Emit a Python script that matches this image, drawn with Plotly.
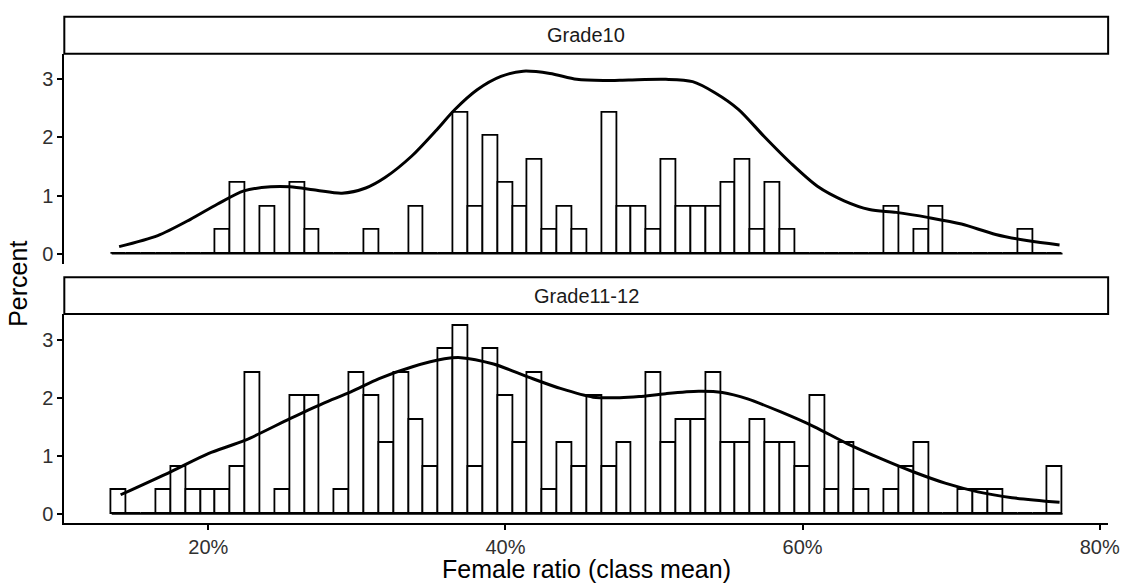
import plotly.graph_objects as go

# ---------------- data ----------------
bin_centers = [14, 15, 16, 17, 18, 19, 20, 21, 22, 23, 24, 25, 26, 27, 28, 29,
               30, 31, 32, 33, 34, 35, 36, 37, 38, 39, 40, 41, 42, 43, 44, 45,
               46, 47, 48, 49, 50, 51, 52, 53, 54, 55, 56, 57, 58, 59, 60, 61,
               62, 63, 64, 65, 66, 67, 68, 69, 70, 71, 72, 73, 74, 75, 76, 77]
bin_width = 1.0

counts_grade10 = [0, 0, 0, 0, 0, 0, 0, 1, 3, 0, 2, 0, 3, 1, 0, 0,
                  0, 1, 0, 0, 2, 0, 0, 6, 2, 5, 3, 2, 4, 1, 2, 1,
                  0, 6, 2, 2, 1, 4, 2, 2, 2, 3, 4, 1, 3, 1, 0, 0,
                  0, 0, 0, 0, 2, 0, 1, 2, 0, 0, 0, 0, 0, 1, 0, 0]

counts_grade11_12 = [1, 0, 0, 1, 2, 1, 1, 1, 2, 6, 0, 1, 5, 5, 0, 1,
                     6, 5, 3, 6, 4, 2, 7, 8, 2, 7, 5, 3, 6, 1, 3, 2,
                     5, 2, 3, 0, 6, 3, 4, 4, 6, 3, 3, 4, 3, 3, 2, 5,
                     1, 3, 1, 0, 1, 2, 3, 0, 0, 1, 1, 1, 0, 0, 0, 2]

dens_x_grade10 = [14.0, 16.6, 18.8, 20.6, 22.4, 24.2, 25.5, 27.3, 29.0, 30.6, 31.9, 33.7,
                  35.3, 36.6, 38.1, 39.7, 41.2, 43.0, 44.8, 46.6, 48.3, 50.8, 52.6, 54.1,
                  55.7, 57.4, 59.2, 61.0, 62.8, 64.5, 66.3, 68.5, 70.7, 73.0, 75.2, 77.3]
dens_y_grade10 = [0.12, 0.31, 0.59, 0.85, 1.08, 1.15, 1.15, 1.09, 1.04, 1.13, 1.31, 1.68,
                  2.11, 2.48, 2.82, 3.05, 3.14, 3.10, 3.00, 2.98, 2.99, 3.00, 2.96, 2.77,
                  2.48, 2.02, 1.56, 1.16, 0.91, 0.76, 0.71, 0.62, 0.51, 0.33, 0.22, 0.15]

dens_x_grade11_12 = [14.1, 17.5, 20.0, 22.5, 25.5, 27.7, 29.6, 31.5, 33.7, 35.9, 37.0, 39.2,
                     41.5, 43.7, 45.9, 47.7, 49.0, 50.8, 53.0, 54.6, 56.3, 58.5, 60.8, 63.0,
                     65.2, 67.4, 69.6, 71.8, 74.1, 77.3]
dens_y_grade11_12 = [0.33, 0.73, 1.04, 1.27, 1.64, 1.90, 2.10, 2.33, 2.53, 2.67, 2.69, 2.58,
                     2.36, 2.16, 2.01, 2.00, 2.02, 2.07, 2.11, 2.09, 1.98, 1.76, 1.50, 1.21,
                     0.96, 0.73, 0.53, 0.38, 0.28, 0.20]

panel_labels = ["Grade10", "Grade11-12"]
x_tick_vals = [20, 40, 60, 80]
x_tick_text = ["20%", "40%", "60%", "80%"]
y_tick_vals = [0, 1, 2, 3]

# ---------------- derived ----------------
total = sum(counts_grade10) + sum(counts_grade11_12)
pct_grade10 = [c / total * 100 for c in counts_grade10]
pct_grade11_12 = [c / total * 100 for c in counts_grade11_12]
base_x = [bin_centers[0] - bin_width / 2, bin_centers[-1] + bin_width / 2]

W, H = 1133, 583
FONT = "Liberation Sans, Arial, Helvetica, sans-serif"


def fx(px):
    return px / W


def fy(py):
    return 1 - py / H


# pixel layout
PL, PR = 65, 1120
TOP_STRIP = (16.7, 54)
TOP_PANEL = (54, 265)
BOT_STRIP = (278.3, 315)
BOT_PANEL = (315, 525)

fig = go.Figure()

bar_line = dict(color="black", width=1.8)
for pct, xa, ya in [(pct_grade10, "x", "y"), (pct_grade11_12, "x2", "y2")]:
    # baseline of empty bins (ggplot draws zero-height bars as a flat line)
    fig.add_trace(go.Scatter(x=base_x, y=[0, 0], mode="lines",
                             line=dict(color="black", width=1.8),
                             xaxis=xa, yaxis=ya, showlegend=False, hoverinfo="skip"))
    fig.add_trace(go.Bar(x=bin_centers, y=pct, width=bin_width,
                         marker=dict(color="white", line=bar_line),
                         xaxis=xa, yaxis=ya, showlegend=False))

fig.add_trace(go.Scatter(x=dens_x_grade10, y=dens_y_grade10, mode="lines",
                         line=dict(color="black", width=3.0, shape="spline", smoothing=0.8),
                         xaxis="x", yaxis="y", showlegend=False))
fig.add_trace(go.Scatter(x=dens_x_grade11_12, y=dens_y_grade11_12, mode="lines",
                         line=dict(color="black", width=3.0, shape="spline", smoothing=0.8),
                         xaxis="x2", yaxis="y2", showlegend=False))

x_range = [10.31, 80.57]
y_range_top = [-(TOP_PANEL[1] - 254.5) / 58.3, (254.5 - TOP_PANEL[0]) / 58.3]
y_range_bot = [-(BOT_PANEL[1] - 515.7) / 58.3, (515.7 - BOT_PANEL[0]) / 58.3]

tickfont = dict(family=FONT, size=20, color="#303030")
yaxis_common = dict(showline=True, linecolor="black", linewidth=2,
                    ticks="outside", ticklen=5, tickwidth=2, tickcolor="black",
                    tickvals=y_tick_vals, showgrid=False, zeroline=False,
                    tickfont=tickfont, fixedrange=True)

fig.update_layout(
    width=W, height=H, autosize=False,
    margin=dict(l=0, r=0, t=0, b=0),
    paper_bgcolor="white", plot_bgcolor="white",
    bargap=0, barmode="overlay",
    xaxis=dict(domain=[fx(PL), fx(PR)], range=x_range, anchor="y",
               showline=False, showticklabels=False, ticks="", showgrid=False,
               zeroline=False),
    yaxis=dict(domain=[fy(TOP_PANEL[1]), fy(TOP_PANEL[0])], range=y_range_top,
               anchor="x", **yaxis_common),
    xaxis2=dict(domain=[fx(PL), fx(PR)], range=x_range, anchor="y2",
                showline=True, linecolor="black", linewidth=2,
                ticks="outside", ticklen=5, tickwidth=2, tickcolor="black",
                tickvals=x_tick_vals, ticktext=x_tick_text, tickfont=tickfont,
                showgrid=False, zeroline=False),
    yaxis2=dict(domain=[fy(BOT_PANEL[1]), fy(BOT_PANEL[0])], range=y_range_bot,
                anchor="x2", **yaxis_common),
)

# facet strips
shapes = []
annotations = []
for (s0, s1), label in zip([TOP_STRIP, BOT_STRIP], panel_labels):
    shapes.append(dict(type="rect", xref="paper", yref="paper",
                       x0=fx(PL), x1=fx(PR), y0=fy(s1), y1=fy(s0),
                       line=dict(color="black", width=2), fillcolor="white",
                       layer="above"))
    annotations.append(dict(text=label, xref="paper", yref="paper",
                            x=fx((PL + PR) / 2), y=fy((s0 + s1) / 2),
                            xanchor="center", yanchor="middle", showarrow=False,
                            font=dict(family=FONT, size=20, color="#1A1A1A")))

annotations.append(dict(text="Female ratio (class mean)", xref="paper", yref="paper",
                        x=fx((PL + PR) / 2), y=fy(571), xanchor="center",
                        yanchor="middle", showarrow=False,
                        font=dict(family=FONT, size=25, color="black")))
annotations.append(dict(text="Percent", xref="paper", yref="paper",
                        x=fx(18), y=fy(285), xanchor="center", yanchor="middle",
                        textangle=-90, showarrow=False,
                        font=dict(family=FONT, size=25, color="black")))

fig.update_layout(shapes=shapes, annotations=annotations)

fig.write_html(
    "out.html",
    config={"displayModeBar": False},
    post_script="document.body.style.margin='0';document.body.style.padding='0';"
                "document.body.style.overflow='hidden';",
)
